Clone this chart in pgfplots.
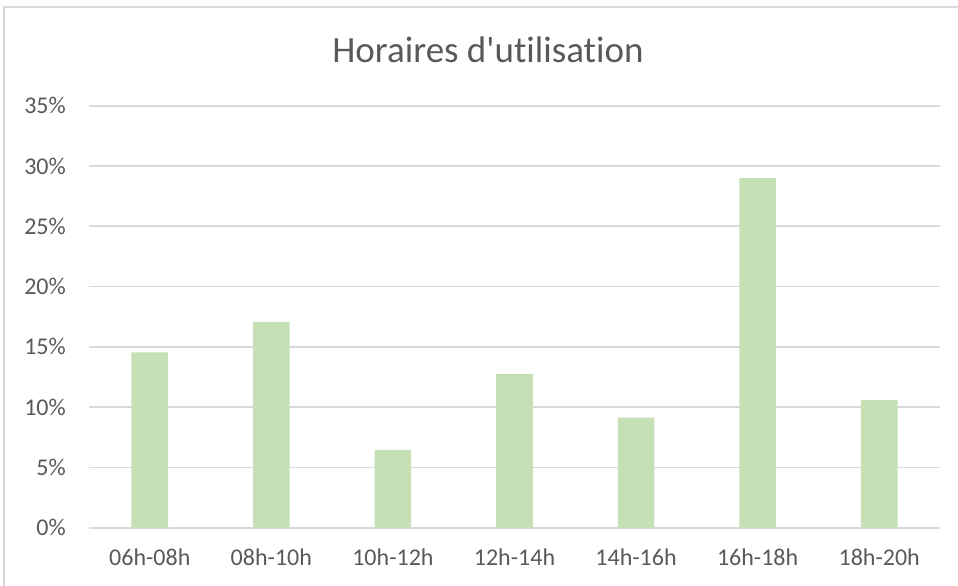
\documentclass[border=0pt]{standalone}
\usepackage{fontspec}
\setmainfont{Carlito}[Ligatures={NoCommon}]
\usepackage{pgfplots}
\pgfplotsset{compat=1.18}

\definecolor{txtgray}{RGB}{89,89,89}
\definecolor{gridgray}{RGB}{217,217,217}
\definecolor{bargreen}{RGB}{197,224,180}

\begin{document}
\begin{tikzpicture}[x=1bp,y=1bp]
  \useasboundingbox (0,0) rectangle (958,586);
  % chart frame (cropped at right and bottom)
  \draw[gridgray, line width=1.5bp] (4,0) -- (4,579) -- (958,579);
  \node[text=txtgray, anchor=base, inner sep=0pt, font=\fontsize{37bp}{43bp}\selectfont]
    at (488,523.3) {Horaires d\textquotesingle utilisation};
  \begin{axis}[
    at={(89bp,58.3bp)},
    anchor=south west,
    scale only axis,
    width=851bp,
    height=422bp,
    xmin=-0.5, xmax=6.5,
    ymin=0, ymax=35,
    ytick={0,5,...,35},
    yticklabels={0\%,5\%,10\%,15\%,20\%,25\%,30\%,35\%},
    xtick={0,...,6},
    xticklabels={06h-08h,08h-10h,10h-12h,12h-14h,14h-16h,16h-18h,18h-20h},
    major tick length=0pt,
    axis line style={draw=none},
    ymajorgrids,
    grid style={gridgray, line width=1.8bp},
    tick label style={font=\fontsize{24bp}{28bp}\selectfont, text=txtgray, inner sep=0pt},
    yticklabel style={anchor=east, xshift=-23bp},
    xticklabel style={anchor=north, yshift=-21bp},
    ybar,
    bar width=36.6bp,
  ]
    \addplot[fill=bargreen, draw=none] coordinates {
      (0,14.55) (1,17.08) (2,6.45) (3,12.74) (4,9.12) (5,29.0) (6,10.61)
    };
  \end{axis}
\end{tikzpicture}
\end{document}
